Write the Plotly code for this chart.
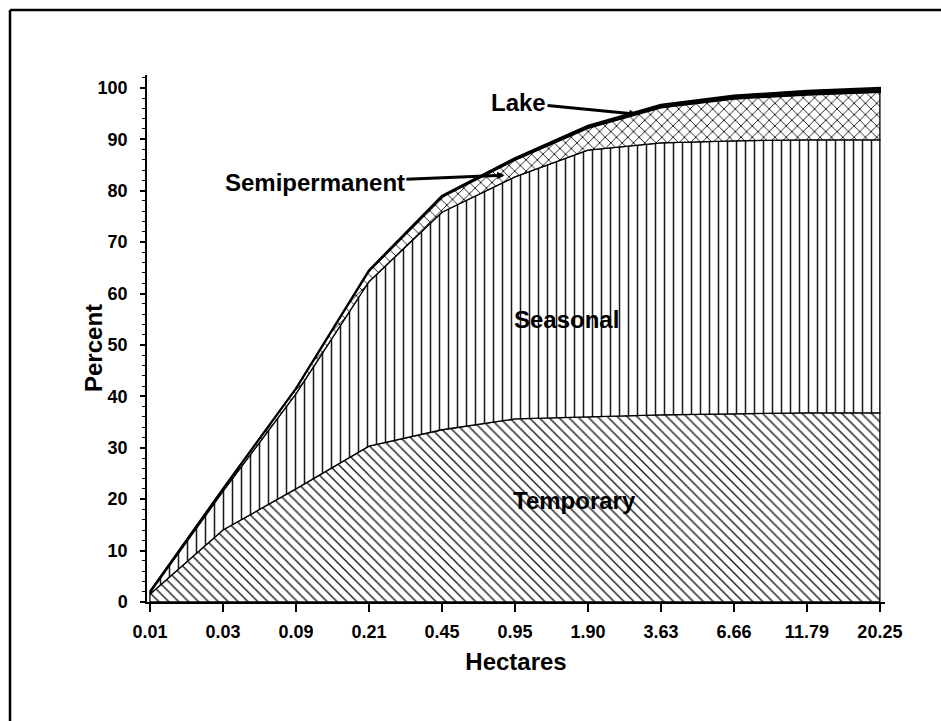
import numpy as np
import plotly.graph_objects as go

# ---- data ----
hectares = ["0.01", "0.03", "0.09", "0.21", "0.45", "0.95", "1.90", "3.63", "6.66", "11.79", "20.25"]
temporary = [1.5, 14.0, 22.0, 30.3, 33.5, 35.6, 36.0, 36.4, 36.6, 36.8, 36.8]
seasonal = [0.3, 7.5, 18.5, 32.0, 42.3, 47.1, 51.9, 52.9, 53.1, 53.1, 53.1]
semipermanent = [0.2, 0.5, 1.0, 2.1, 3.0, 3.3, 4.3, 6.9, 8.2, 8.8, 9.3]
lake = [0.0, 0.0, 0.0, 0.1, 0.2, 0.3, 0.4, 0.5, 0.6, 0.7, 0.8]
y_ticks = list(range(0, 101, 10))

FONT = "Liberation Sans, Arial, sans-serif"
W, H = 941, 721
ML, MR, MT, MB = 147, 56, 75, 119

idx = list(range(len(hectares)))
layers = [
    ("Temporary", temporary, dict(shape="\\", size=7, solidity=0.2)),
    ("Seasonal", seasonal, dict(shape="|", size=9, solidity=0.17)),
    ("Semipermanent", semipermanent, dict(shape="x", size=8, solidity=0.22)),
    ("Lake", lake, None),
]

fig = go.Figure()
lower = np.zeros(len(idx))
for name, vals, pat in layers:
    upper = lower + np.array(vals)
    xs = idx + idx[::-1] + [idx[0]]
    ys = list(upper) + list(lower[::-1]) + [upper[0]]
    kw = dict(x=xs, y=ys, mode="lines", fill="toself", name=name,
              line=dict(color="black", width=2.2 if name == "Lake" else 1.3),
              hoverinfo="skip", showlegend=False)
    if pat is None:
        kw["fillcolor"] = "black"
    else:
        kw["fillcolor"] = "white"
        kw["fillpattern"] = dict(fgcolor="#1a1a1a", bgcolor="white", fillmode="replace", **pat)
    fig.add_trace(go.Scatter(**kw))
    lower = upper

label_font = dict(family=FONT, size=24, color="black", weight="bold")
ann = [
    dict(text="Lake", x=6.67, y=94.9, ax=5.05, ay=97.1),
    dict(text="Semipermanent", x=4.86, y=83.0, ax=2.26, ay=81.5),
]
for a in ann:
    fig.add_annotation(text=a["text"], x=a["x"], y=a["y"], ax=a["ax"], ay=a["ay"],
                       xref="x", yref="y", axref="x", ayref="y",
                       showarrow=True, arrowhead=2, arrowsize=0.5, arrowwidth=3,
                       arrowcolor="black", font=label_font)
fig.add_annotation(text="Seasonal", x=5.71, y=54.9, xref="x", yref="y",
                   showarrow=False, font=label_font)
fig.add_annotation(text="Temporary", x=5.82, y=19.8, xref="x", yref="y",
                   showarrow=False, font=label_font)

pw, ph = W - ML - MR, H - MT - MB
px = lambda p: (p - ML) / pw
py = lambda p: 1 - (p - MT) / ph

# y-axis title placed as rotated text
fig.add_annotation(text="Percent", xref="paper", yref="paper", x=px(93), y=py(348),
                   xanchor="center", yanchor="middle",
                   textangle=-90, showarrow=False, font=label_font)

# frame lines of the scanned page (top and left)
fig.add_shape(type="line", xref="paper", yref="paper", x0=px(10), x1=px(945), y0=py(10), y1=py(10),
              line=dict(color="black", width=2.5))
fig.add_shape(type="line", xref="paper", yref="paper", x0=px(10), x1=px(10), y0=py(10), y1=py(725),
              line=dict(color="black", width=2.5))

tick_font = dict(family=FONT, size=18, color="black", weight="bold")
fig.update_layout(
    width=W, height=H,
    margin=dict(l=ML, r=MR, t=MT, b=MB),
    paper_bgcolor="white", plot_bgcolor="white",
    xaxis=dict(range=[-0.04, 10.07], tickmode="array", tickvals=idx, ticktext=hectares,
               showgrid=False, zeroline=False, showline=True, linecolor="black", linewidth=1.5,
               ticks="outside", ticklen=8, tickwidth=1.5, tickcolor="black",
               tickfont=tick_font, ticklabelstandoff=5,
               title=dict(text="Hectares", font=label_font, standoff=12)),
    yaxis=dict(range=[0, 102.5], tickmode="array", tickvals=y_ticks,
               showgrid=False, zeroline=False, showline=True, linecolor="black", linewidth=1.5,
               ticks="outside", ticklen=5, tickwidth=1.5, tickcolor="black",
               minor=dict(dtick=2, ticks="outside", ticklen=3, tickcolor="black", tickwidth=1),
               tickfont=tick_font, ticklabelstandoff=9),
)

fig.write_html("out.html")
